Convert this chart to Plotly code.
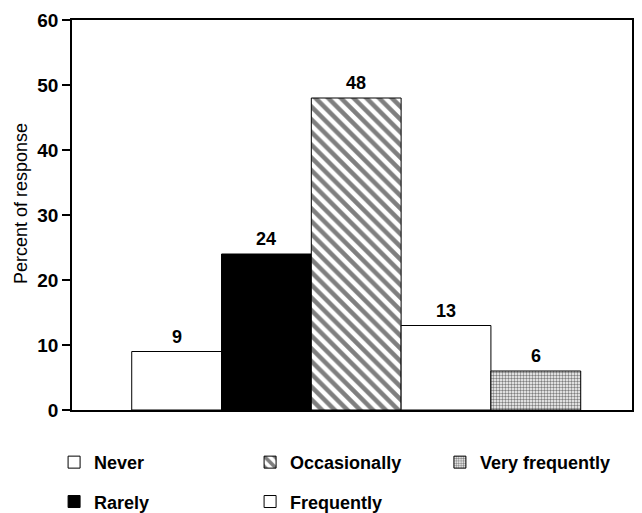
import plotly.graph_objects as go

categories = ["Never", "Rarely", "Occasionally", "Frequently", "Very frequently"]
values = [9, 24, 48, 13, 6]
y_tick_vals = [0, 10, 20, 30, 40, 50, 60]
y_tick_text = ["0", "10", "20", "30", "40", "50", "60"]

styles = {
    "Never": dict(color="white", pattern=None, legend="legend"),
    "Rarely": dict(color="black", pattern=None, legend="legend"),
    "Occasionally": dict(color="white",
                         pattern=dict(shape="\\", size=9, solidity=0.5,
                                      fgcolor="black", bgcolor="white", fillmode="overlay"),
                         legend="legend2"),
    "Frequently": dict(color="white", pattern=None, legend="legend2"),
    "Very frequently": dict(color="white",
                            pattern=dict(shape=".", size=3, solidity=0.5,
                                         fgcolor="black", bgcolor="white", fillmode="overlay"),
                            legend="legend3"),
}

FONT = "Liberation Sans, Arial, sans-serif"

fig = go.Figure()
for cat, val in zip(categories, values):
    st = styles[cat]
    marker = dict(color=st["color"], line=dict(color="black", width=1))
    if st["pattern"] is not None:
        marker["pattern"] = st["pattern"]
    fig.add_trace(go.Bar(
        x=[cat], y=[val], width=1, name=cat, marker=marker,
        legend=st["legend"], legendgroup=cat, showlegend=True,
    ))
    fig.add_annotation(
        x=cat, y=val, text=str(val), showarrow=False, yanchor="bottom",
        yshift=3, font=dict(family=FONT, size=18, color="black", weight="bold"),
    )

fig.add_annotation(
    xref="paper", yref="paper", x=-0.091, y=0.528, text="Percent of response",
    textangle=-90, showarrow=False, xanchor="center", yanchor="middle",
    font=dict(family=FONT, size=18, color="black"),
)

legend_common = dict(
    orientation="v", yanchor="top", xanchor="left", y=-0.087,
    traceorder="grouped", tracegroupgap=13, bgcolor="rgba(0,0,0,0)",
    font=dict(family=FONT, size=18, color="black", weight="bold"),
)

# the page body adds an 8px offset, so the figure is sized to fill the rest of the window
fig.update_layout(
    width=634, height=505,
    margin=dict(l=64, r=10, t=12, b=103, autoexpand=False),
    paper_bgcolor="white", plot_bgcolor="white",
    barmode="overlay",
    showlegend=True,
    legend=dict(x=-0.032, **legend_common),
    legend2=dict(x=0.318, **legend_common),
    legend3=dict(x=0.657, **legend_common),
    xaxis=dict(
        type="category", categoryorder="array", categoryarray=categories,
        range=[-1.165, 5.071], showticklabels=False, ticks="",
        showline=True, linecolor="black", linewidth=2, mirror=True,
        showgrid=False, zeroline=False, automargin=False,
    ),
    yaxis=dict(
        range=[0, 60], tickvals=y_tick_vals, ticktext=y_tick_text,
        ticks="outside", ticklen=8, tickwidth=1.5, tickcolor="black",
        showline=True, linecolor="black", linewidth=1.5, mirror=True,
        showgrid=False, zeroline=False, automargin=False,
        tickfont=dict(family=FONT, size=19, color="black", weight="bold"),
    ),
)

fig.write_html("out.html")
